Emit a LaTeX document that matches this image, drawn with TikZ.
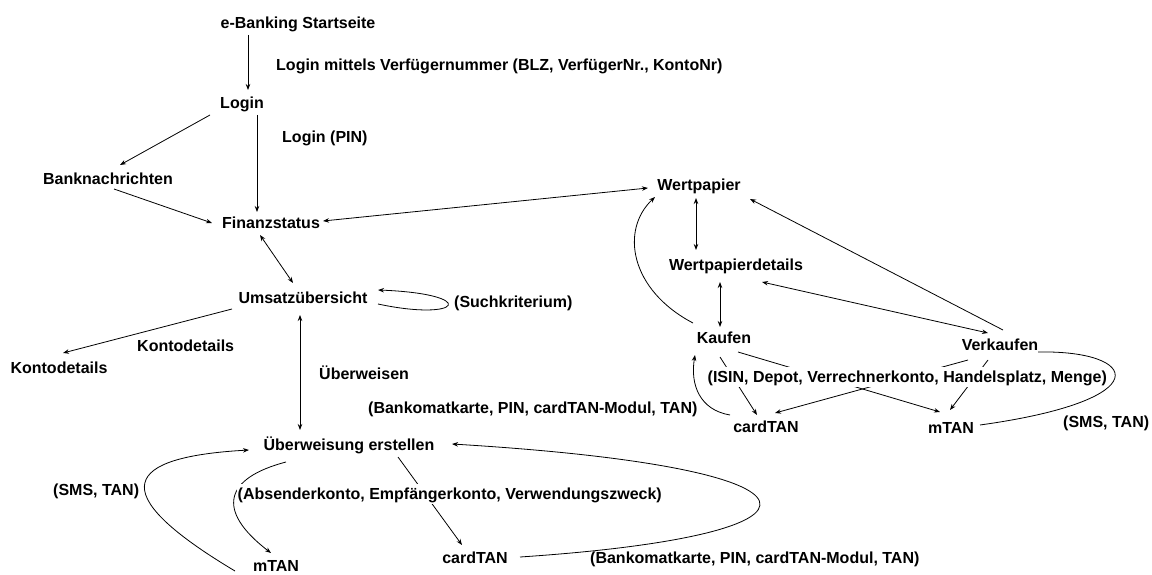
\documentclass[tikz,border=0pt]{standalone}
\usepackage{fontspec}
\setmainfont{Liberation Sans}
\usetikzlibrary{arrows.meta,calc}
\begin{document}
\begin{tikzpicture}[x=1pt,y=-1pt,
  every node/.style={font=\bfseries\fontsize{16}{19}\selectfont, inner sep=0pt, text height=11.5pt, text depth=0pt},
  st/.style={anchor=center},
  lab/.style={anchor=west},
  mask/.style={anchor=west, fill=white, inner xsep=0.5pt, inner ysep=4.5pt},
  arr/.style={-{Stealth[length=6pt,width=4.5pt]}, line width=0.8pt},
  darr/.style={{Stealth[length=6pt,width=4.5pt]}-{Stealth[length=6pt,width=4.5pt]}, line width=0.8pt},
  ln/.style={line width=0.8pt}]
\useasboundingbox[fill=white] (0,0) rectangle (1152,575);
% main nodes
\node[st] (start) at (298,23) {e-Banking Startseite};
\node[st] (login) at (242,103) {Login};
\node[st] (bank) at (108,179) {Banknachrichten};
\node[st] (finanz) at (271,223) {Finanzstatus};
\node[st] (umsatz) at (303,298) {Umsatzübersicht};
\node[st] (konto) at (59,368) {Kontodetails};
\node[st] (ueber) at (349,445) {Überweisung erstellen};
\node[st] (mtanL) at (276,566) {mTAN};
\node[st] (cardL) at (475,558) {cardTAN};
\node[st] (wert) at (699,185) {Wertpapier};
\node[st] (wdet) at (736,265) {Wertpapierdetails};
\node[st] (kauf) at (724,338) {Kaufen};
\node[st] (verk) at (1000,345) {Verkaufen};
\node[st] (cardR) at (766,427) {cardTAN};
\node[st] (mtanR) at (951,428) {mTAN};
% labels
\node[lab] (lLoginV) at (276,65) {Login mittels Verfügernummer (BLZ, VerfügerNr., KontoNr)};
\node[lab] (lPIN) at (282,137) {Login (PIN)};
\node[lab] (lSuch) at (454,302) {(Suchkriterium)};
\node[lab] (lKonto) at (137,346) {Kontodetails};
\node[lab] (lUeb) at (319,374) {Überweisen};
\node[lab] (lBank1) at (368,408) {(Bankomatkarte, PIN, cardTAN-Modul, TAN)};
\node[lab] (lSMS1) at (53,490) {(SMS, TAN)};
\node[lab] (lBank2) at (590,558) {(Bankomatkarte, PIN, cardTAN-Modul, TAN)};
\node[lab] (lSMS2) at (1063,422) {(SMS, TAN)};
% connectors
\draw[arr] ($(start)+(-50,12)$) -- ($(login)+(6,-13)$);
\draw[arr] ($(login)+(15,12)$) -- ($(finanz)+(-14,-11)$);
\draw[arr] ($(login)+(-32,12)$) -- ($(bank)+(12,-14)$);
\draw[arr] ($(bank)+(6,10)$) -- ($(finanz)+(-59,0)$);
\draw[darr] ($(finanz)+(52,-2)$) -- ($(wert)+(-51,3)$);
\draw[darr] ($(finanz)+(-11,12)$) -- ($(umsatz)+(-10,-15)$);
\draw[arr] ($(umsatz)+(75,6)$) .. controls ($(umsatz)+(159,24)$) and ($(umsatz)+(177,-4)$) .. ($(umsatz)+(75,-8)$);
\draw[arr] ($(umsatz)+(-71,11)$) -- ($(konto)+(4,-15)$);
\draw[darr] ($(umsatz)+(-3,17)$) -- ($(ueber)+(-49,-15)$);
\draw[arr] ($(ueber)+(-63,17)$) .. controls ($(ueber)+(-124,33)$) and ($(ueber)+(-134,65)$) .. ($(mtanL)+(-5,-13)$);
\draw[arr] ($(mtanL)+(-41,5)$) .. controls ($(mtanL)+(-175,-75)$) and ($(ueber)+(-224,12)$) .. ($(ueber)+(-100,5)$);
\draw[arr] ($(ueber)+(49,12)$) -- ($(cardL)+(-13,-13)$);
\draw[arr] ($(cardL)+(45,-1)$) .. controls ($(cardL)+(375,-23)$) and ($(ueber)+(501,23)$) .. ($(ueber)+(103,-1)$);
\draw[darr] ($(wert)+(-3,13)$) -- ($(wdet)+(-40,-15)$);
\draw[darr] ($(wdet)+(-16,17)$) -- ($(kauf)+(-4,-11)$);
\draw[arr] ($(kauf)+(-31,-15)$) .. controls ($(kauf)+(-94,-48)$) and ($(wert)+(-79,45)$) .. ($(wert)+(-44,12)$);
\draw[arr] ($(verk)+(3,-15)$) -- ($(wert)+(51,14)$);
\draw[darr] ($(wdet)+(26,17)$) -- ($(verk)+(-12,-12)$);
\draw[arr] ($(kauf)+(-4,19)$) -- ($(cardR)+(-9,-12)$);
\draw[arr] ($(kauf)+(14,14)$) -- ($(mtanR)+(-11,-16)$);
\draw[arr] ($(verk)+(-32,15)$) -- ($(cardR)+(9,-14)$);
\draw[arr] ($(verk)+(-12,15)$) -- ($(mtanR)+(-1,-18)$);
\draw[arr] ($(cardR)+(-36,-12)$) .. controls ($(cardR)+(-66,-17)$) and ($(kauf)+(-34,47)$) .. ($(kauf)+(-29,17)$);
\draw[ln] ($(mtanR)+(29,-3)$) .. controls ($(mtanR)+(209,-28)$) and ($(verk)+(140,5)$) .. ($(verk)+(38,7)$);
% labels crossing connectors
\node[mask] (lAbs) at (237,494) {(Absenderkonto, Empfängerkonto, Verwendungszweck)};
\node[mask] (lISIN) at (707,377) {(ISIN, Depot, Verrechnerkonto, Handelsplatz, Menge)};
\end{tikzpicture}
\end{document}
